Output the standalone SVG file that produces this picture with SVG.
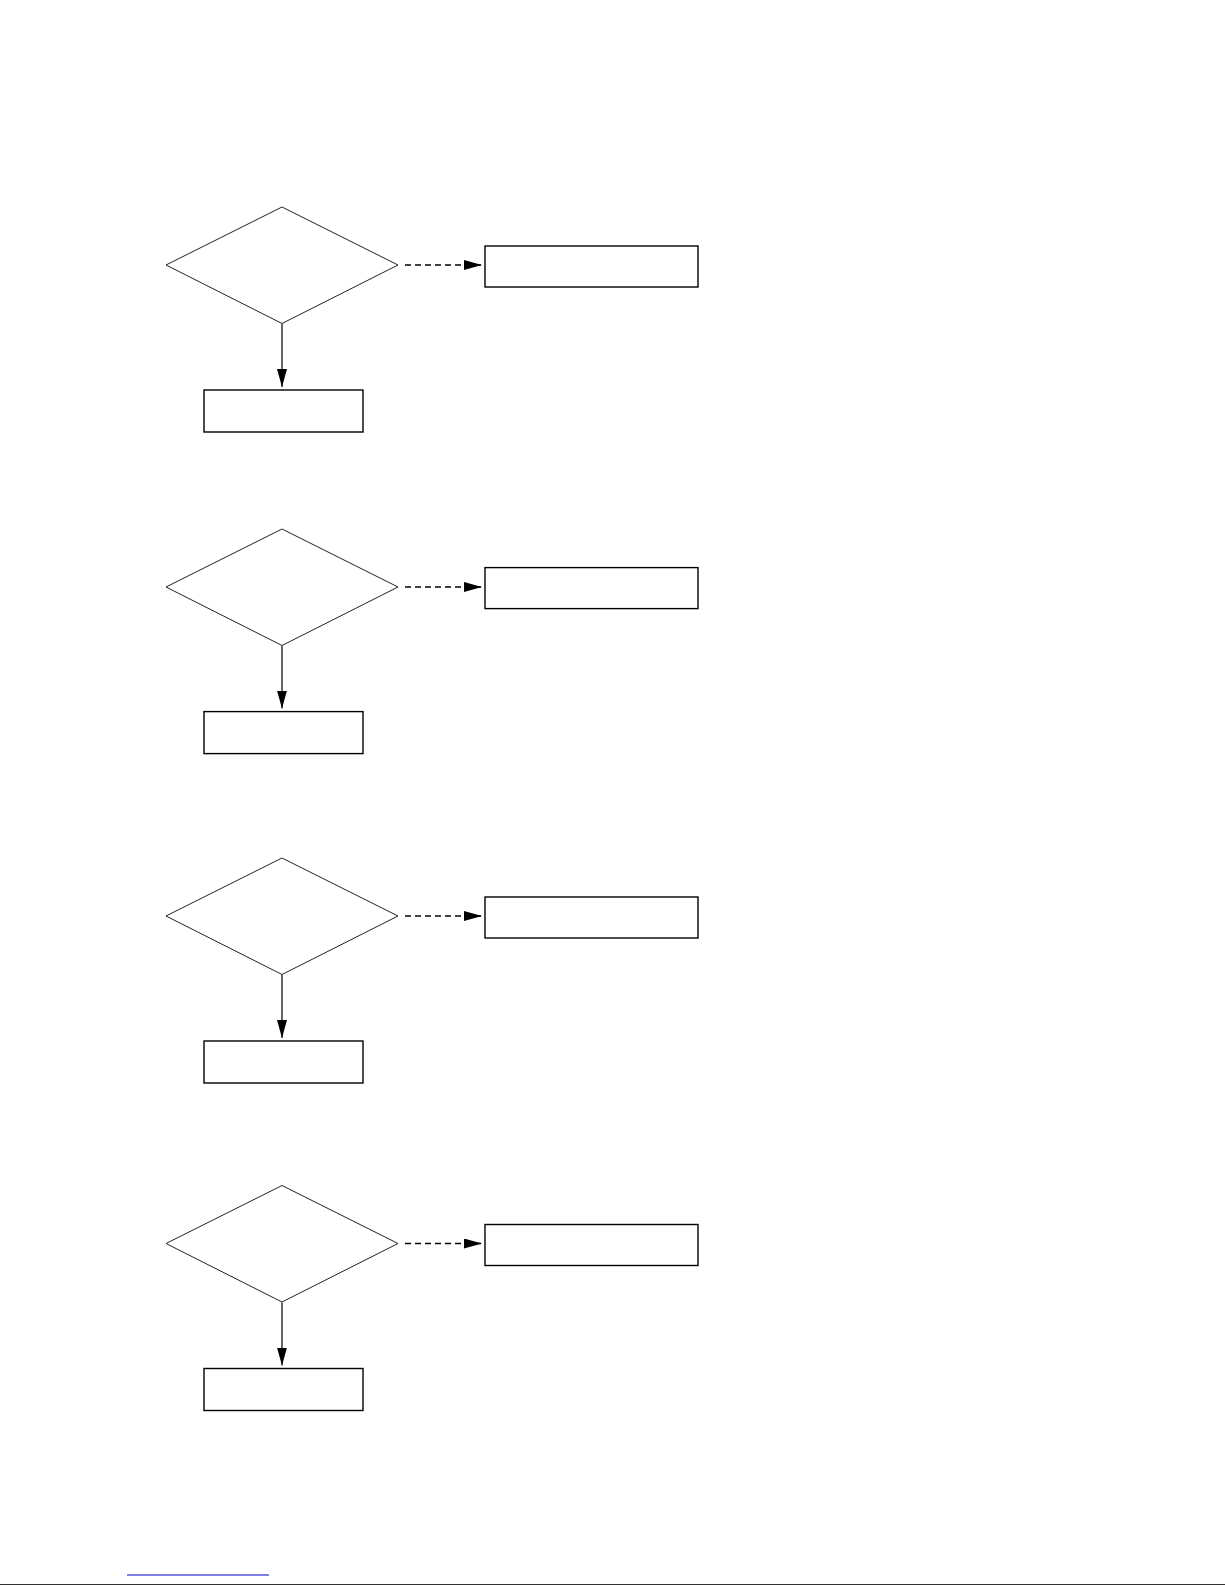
<svg xmlns="http://www.w3.org/2000/svg" width="1225" height="1585" viewBox="0 0 1225 1585">
<style>
.dia{fill:#fff;stroke:#222;stroke-width:1}
.box{fill:#fff;stroke:#000;stroke-width:1.4}
.con{fill:none;stroke:#000;stroke-width:1.2}
.dash{stroke-dasharray:6 4;stroke-width:1.4}
</style>
<defs>
<marker id="ah" viewBox="0 0 18 10" refX="18" refY="5" markerWidth="18" markerHeight="10" markerUnits="userSpaceOnUse" orient="auto">
<path d="M0,0 L18,5 L0,10 Z" fill="#000"/>
</marker>
</defs>
<rect width="1225" height="1585" fill="#fff"/>
<g id="nodes">
<g id="d1"><polygon class="dia" points="282,207 398,265 282,323.5 166,265"/></g>
<g id="r1"><rect class="box" x="485" y="246" width="213" height="41"/></g>
<g id="b1"><rect class="box" x="204" y="390" width="159" height="42"/></g>
<g id="d2"><polygon class="dia" points="282,529 398,587 282,645.5 166,587"/></g>
<g id="r2"><rect class="box" x="485" y="567.6" width="213" height="41"/></g>
<g id="b2"><rect class="box" x="204" y="711.6" width="159" height="42"/></g>
<g id="d3"><polygon class="dia" points="282,858 398,916 282,974.5 166,916"/></g>
<g id="r3"><rect class="box" x="485" y="897" width="213" height="41"/></g>
<g id="b3"><rect class="box" x="204" y="1041" width="159" height="42"/></g>
<g id="d4"><polygon class="dia" points="282,1185.5 398,1243.5 282,1302 166,1243.5"/></g>
<g id="r4"><rect class="box" x="485" y="1224.5" width="213" height="41"/></g>
<g id="b4"><rect class="box" x="204" y="1368.5" width="159" height="42"/></g>
</g>
<g id="connectors">
<line class="con dash" x1="405" y1="265" x2="482" y2="265" marker-end="url(#ah)"/>
<line class="con" x1="282" y1="324" x2="282" y2="387" marker-end="url(#ah)"/>
<line class="con dash" x1="405" y1="587" x2="482" y2="587" marker-end="url(#ah)"/>
<line class="con" x1="282" y1="646" x2="282" y2="708.6" marker-end="url(#ah)"/>
<line class="con dash" x1="405" y1="916" x2="482" y2="916" marker-end="url(#ah)"/>
<line class="con" x1="282" y1="975" x2="282" y2="1038" marker-end="url(#ah)"/>
<line class="con dash" x1="405" y1="1243.5" x2="482" y2="1243.5" marker-end="url(#ah)"/>
<line class="con" x1="282" y1="1302.5" x2="282" y2="1365.5" marker-end="url(#ah)"/>
</g>
<line x1="127" y1="1575" x2="269" y2="1575" stroke="#0000cc" stroke-width="1.2"/>
<line x1="0" y1="1584.5" x2="1225" y2="1584.5" stroke="#333" stroke-width="1"/>
</svg>
